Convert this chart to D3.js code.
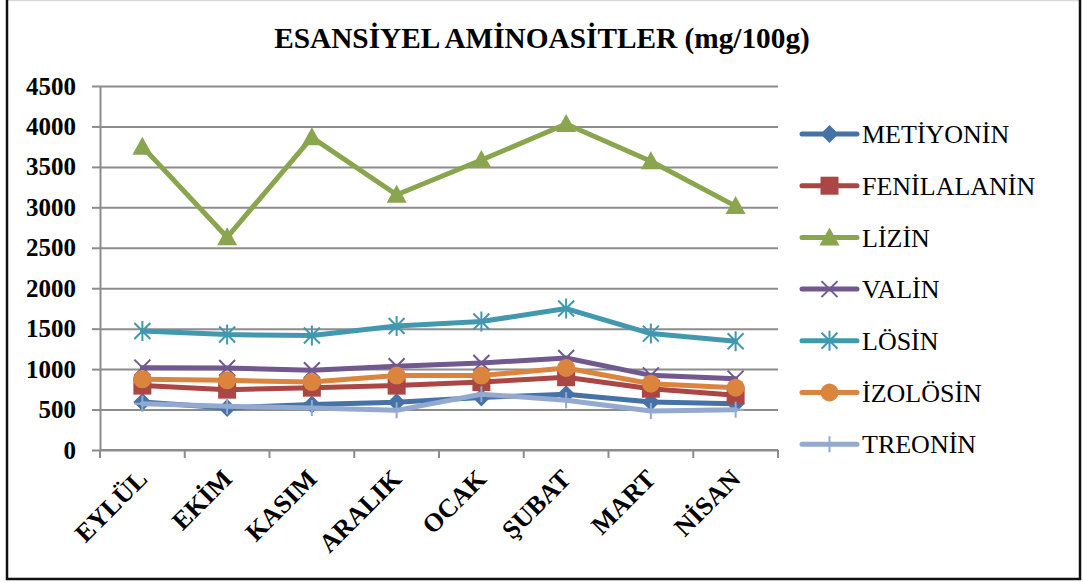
<!DOCTYPE html>
<html>
<head>
<meta charset="utf-8">
<script src="https://cdn.jsdelivr.net/npm/d3@7"></script>
<style>
    body { margin: 0; background: #fff; }
    svg { display: block; font-family: "Liberation Serif", "Times New Roman", serif; }
    svg text { font-family: "Liberation Serif", "Times New Roman", serif; }
</style>
</head>
<body>
<div id="chart"></div>
<script>
// data
const months = ["EYLÜL", "EKİM", "KASIM", "ARALIK", "OCAK", "ŞUBAT", "MART", "NİSAN"]
const yTicks = [0, 500, 1000, 1500, 2000, 2500, 3000, 3500, 4000, 4500]

const metiyonin = [593, 519, 564, 589, 650, 690, 593, 573]
const fenilalanin = [796, 746, 771, 796, 840, 900, 758, 676]
const lizin = [3750, 2630, 3865, 3155, 3585, 4030, 3570, 3015]
const valin = [1018, 1014, 985, 1035, 1076, 1137, 923, 882]
const losin = [1471, 1427, 1415, 1533, 1588, 1749, 1439, 1344]
const izolosin = [874, 861, 840, 920, 920, 1014, 820, 771]
const treonin = [573, 540, 519, 490, 690, 614, 481, 499]

const seriesNames = ["METİYONİN", "FENİLALANİN", "LİZİN", "VALİN", "LÖSİN", "İZOLÖSİN", "TREONİN"]
const seriesValues = [metiyonin, fenilalanin, lizin, valin, losin, izolosin, treonin]
const seriesColors = ["#4572A7", "#AA4643", "#89A54E", "#71588F", "#4198AF", "#DB843D", "#93A9CF"]
const seriesMarkers = ["diamond", "square", "triangle", "x", "star", "circle", "plus"]

const series = seriesNames.map((name, i) => ({
    name: name,
    values: seriesValues[i],
    color: seriesColors[i],
    marker: seriesMarkers[i]
}))

let dimensions = {
    width: 1083,
    height: 583,
    margin: { top: 86, right: 305, bottom: 133, left: 100 }
}
dimensions.boundedWidth = dimensions.width - dimensions.margin.left - dimensions.margin.right
dimensions.boundedHeight = dimensions.height - dimensions.margin.top - dimensions.margin.bottom

const serif = '"Liberation Serif", "Times New Roman", serif'

const wrapper = d3.select("#chart").append("svg")
    .attr("width", dimensions.width)
    .attr("height", dimensions.height)

wrapper.append("rect")
    .attr("width", dimensions.width)
    .attr("height", dimensions.height)
    .attr("fill", "#fff")

// outer frame
wrapper.append("line")
    .attr("x1", 7).attr("x2", 1080).attr("y1", 0.5).attr("y2", 0.5)
    .attr("stroke", "#d9d9d9").attr("stroke-width", 1.5)
wrapper.append("path")
    .attr("d", "M7,0 V579 H1080 V0")
    .attr("fill", "none")
    .attr("stroke", "#111")
    .attr("stroke-width", 2.5)

wrapper.append("text")
    .attr("x", 542)
    .attr("y", 48)
    .attr("text-anchor", "middle")
    .style("font-size", "29.3px")
    .style("font-weight", "bold")
    .text("ESANSİYEL AMİNOASİTLER (mg/100g)")

const bounds = wrapper.append("g")
    .attr("transform", `translate(${dimensions.margin.left},${dimensions.margin.top})`)

// scales
const xScale = d3.scaleBand()
    .domain(months)
    .range([0, dimensions.boundedWidth])

const yScale = d3.scaleLinear()
    .domain([0, 4500])
    .range([dimensions.boundedHeight, 0])

// gridlines
bounds.append("g")
    .call(d3.axisLeft(yScale).tickValues(yTicks).tickSize(-dimensions.boundedWidth).tickFormat(""))
    .call(g => g.select(".domain").remove())
    .call(g => g.selectAll("line").attr("stroke", "#8c8c8c").attr("stroke-width", 2))

// y axis
const yAxis = bounds.append("g")
    .call(d3.axisLeft(yScale).tickValues(yTicks).tickFormat(d3.format("d"))
        .tickSize(8).tickPadding(16).tickSizeOuter(0))
    .attr("font-family", serif)
yAxis.select(".domain").attr("stroke", "#8c8c8c").attr("stroke-width", 2)
yAxis.selectAll(".tick line").attr("stroke", "#8c8c8c").attr("stroke-width", 2)
yAxis.selectAll("text")
    .attr("fill", "#000")
    .style("font-family", serif)
    .style("font-size", "25px")
    .style("font-weight", "bold")

// x axis: ticks sit between categories
const xAxis = bounds.append("g")
    .attr("transform", `translate(0,${dimensions.boundedHeight})`)
xAxis.append("line")
    .attr("x1", 0).attr("x2", dimensions.boundedWidth)
    .attr("stroke", "#8c8c8c").attr("stroke-width", 2)
xAxis.selectAll(".xtick")
    .data(d3.range(months.length + 1))
    .join("line")
    .attr("class", "xtick")
    .attr("x1", i => i * xScale.step())
    .attr("x2", i => i * xScale.step())
    .attr("y1", 0).attr("y2", 8)
    .attr("stroke", "#8c8c8c").attr("stroke-width", 2)
xAxis.selectAll(".xlabel")
    .data(months)
    .join("text")
    .attr("class", "xlabel")
    .attr("transform", d => `translate(${xScale(d) + xScale.bandwidth() / 2},24) rotate(-45)`)
    .attr("text-anchor", "end")
    .attr("dy", "0.35em")
    .style("font-family", serif)
    .style("font-size", "26px")
    .style("font-weight", "bold")
    .text(d => d)

// markers
function markerPath(type) {
    switch (type) {
        case "diamond": return "M0,-9L9,0L0,9L-9,0Z"
        case "square": return "M-9,-9H9V9H-9Z"
        case "triangle": return "M0,-10L10,8H-10Z"
        case "circle": return "M9,0A9,9 0 1,1 -9,0A9,9 0 1,1 9,0Z"
        case "x": return "M-8,-8L8,8M8,-8L-8,8"
        case "star": return "M-8,-8L8,8M8,-8L-8,8M0,-10V10"
        case "plus": return "M0,-8V8M-8,0H8"
    }
}
const filledMarkers = ["diamond", "square", "triangle", "circle"]

function drawMarker(sel, s) {
    const filled = filledMarkers.includes(s.marker)
    sel.attr("d", markerPath(s.marker))
        .attr("fill", filled ? s.color : "none")
        .attr("stroke", s.color)
        .attr("stroke-width", filled ? 0 : 2)
}

const lineGenerator = d3.line()
    .x((d, i) => xScale(months[i]) + xScale.bandwidth() / 2)
    .y(d => yScale(d))

series.forEach(s => {
    const g = bounds.append("g")
    g.append("path")
        .attr("d", lineGenerator(s.values))
        .attr("fill", "none")
        .attr("stroke", s.color)
        .attr("stroke-width", 5)
        .attr("stroke-linejoin", "round")
        .attr("stroke-linecap", "round")
    g.selectAll("path.marker")
        .data(s.values)
        .join("path")
        .attr("class", "marker")
        .attr("transform", (d, i) => `translate(${xScale(months[i]) + xScale.bandwidth() / 2},${yScale(d)})`)
        .each(function () { drawMarker(d3.select(this), s) })
})

// legend
const legend = wrapper.append("g")
    .attr("transform", "translate(802,134)")
const legendItems = legend.selectAll("g")
    .data(series)
    .join("g")
    .attr("transform", (d, i) => `translate(0,${i * 51.7})`)
legendItems.append("line")
    .attr("x1", 0).attr("x2", 55)
    .attr("stroke", d => d.color)
    .attr("stroke-width", 5)
    .attr("stroke-linecap", "round")
legendItems.append("path")
    .attr("transform", "translate(27.5,0)")
    .each(function (d) { drawMarker(d3.select(this), d) })
legendItems.append("text")
    .attr("x", 60)
    .attr("dy", "0.35em")
    .style("font-size", "26px")
    .text(d => d.name)
</script>
</body>
</html>
